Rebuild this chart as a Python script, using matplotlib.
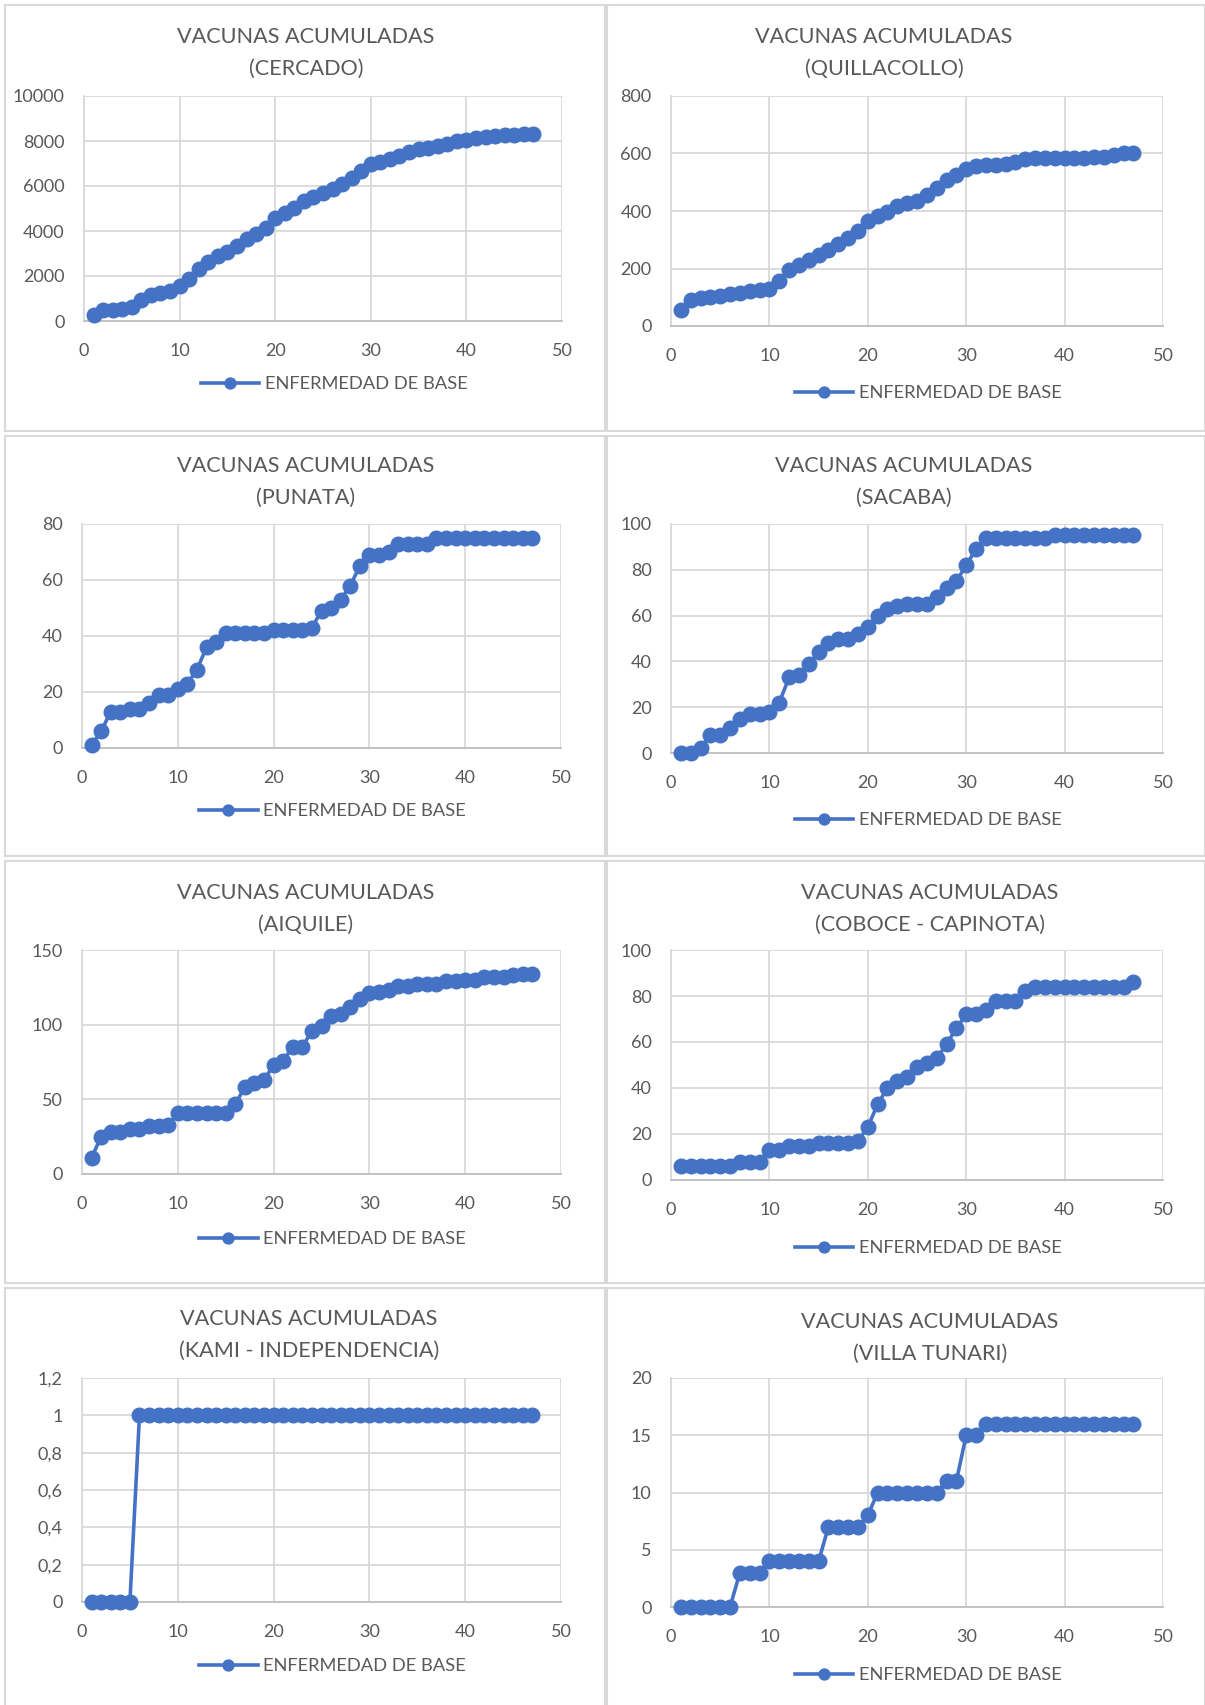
import matplotlib
matplotlib.use("Agg")
import matplotlib.pyplot as plt
from matplotlib.patches import Rectangle
from matplotlib.ticker import FuncFormatter, MultipleLocator

plt.rcParams['font.family'] = ['Lato', 'DejaVu Sans']

# Data (day index 1..47, cumulative vaccines)
days = list(range(1, 48))

cercado = [250, 470, 500, 550, 620, 920, 1140, 1260, 1330, 1560,
           1850, 2300, 2620, 2890, 3070, 3330, 3660, 3880, 4150, 4580,
           4800, 5040, 5330, 5510, 5690, 5880, 6070, 6370, 6670, 6960,
           7070, 7190, 7330, 7510, 7630, 7700, 7780, 7880, 8000, 8060,
           8150, 8180, 8220, 8250, 8280, 8290, 8320]
quillacollo = [55, 92, 98, 100, 104, 110, 115, 121, 125, 129,
               158, 194, 213, 231, 246, 263, 286, 306, 332, 364,
               383, 396, 418, 427, 436, 456, 479, 508, 525, 545,
               556, 560, 560, 565, 571, 580, 583, 585, 586, 586,
               586, 586, 588, 588, 594, 600, 600]
punata = [1, 6, 13, 13, 14, 14, 16, 19, 19, 21,
          23, 28, 36, 38, 41, 41, 41, 41, 41, 42,
          42, 42, 42, 43, 49, 50, 53, 58, 65, 69,
          69, 70, 73, 73, 73, 73, 75, 75, 75, 75,
          75, 75, 75, 75, 75, 75, 75]
sacaba = [0, 0, 2, 8, 8, 11, 15, 17, 17, 18,
          22, 33, 34, 39, 44, 48, 50, 50, 52, 55,
          60, 63, 64, 65, 65, 65, 68, 72, 75, 82,
          89, 94, 94, 94, 94, 94, 94, 94, 95, 95,
          95, 95, 95, 95, 95, 95, 95]
aiquile = [11, 25, 28, 28, 30, 30, 32, 32, 33, 41,
           41, 41, 41, 41, 41, 47, 58, 61, 63, 73,
           76, 85, 85, 96, 99, 106, 107, 112, 117, 121,
           122, 123, 126, 126, 127, 127, 127, 129, 129, 130,
           130, 132, 132, 132, 133, 134, 134]
coboce = [6, 6, 6, 6, 6, 6, 8, 8, 8, 13,
          13, 15, 15, 15, 16, 16, 16, 16, 17, 23,
          33, 40, 43, 45, 49, 51, 53, 59, 66, 72,
          72, 74, 78, 78, 78, 82, 84, 84, 84, 84,
          84, 84, 84, 84, 84, 84, 86]
kami = [0, 0, 0, 0, 0, 1, 1, 1, 1, 1,
        1, 1, 1, 1, 1, 1, 1, 1, 1, 1,
        1, 1, 1, 1, 1, 1, 1, 1, 1, 1,
        1, 1, 1, 1, 1, 1, 1, 1, 1, 1,
        1, 1, 1, 1, 1, 1, 1]
villa_tunari = [0, 0, 0, 0, 0, 0, 3, 3, 3, 4,
                4, 4, 4, 4, 4, 7, 7, 7, 7, 8,
                10, 10, 10, 10, 10, 10, 10, 11, 11, 15,
                15, 16, 16, 16, 16, 16, 16, 16, 16, 16,
                16, 16, 16, 16, 16, 16, 16]

names = ["(CERCADO)", "(QUILLACOLLO)", "(PUNATA)", "(SACABA)",
         "(AIQUILE)", "(COBOCE - CAPINOTA)", "(KAMI - INDEPENDENCIA)", "(VILLA TUNARI)"]
series = [cercado, quillacollo, punata, sacaba, aiquile, coboce, kami, villa_tunari]
y_max = [10000, 800, 80, 100, 150, 100, 1.2, 20]
y_step = [2000, 200, 20, 20, 50, 20, 0.2, 5]

# layout in pixels: axes (left, right, top, bottom), title center x, title y1, legend y
W, H = 1205, 1705
axes_px = [(84, 562, 96, 321), (671, 1163, 96, 326),
           (82, 561, 524, 748), (671, 1163, 524, 753),
           (82, 561, 950, 1174), (671, 1163, 950, 1180),
           (82, 561, 1378, 1602), (671, 1163, 1378, 1607)]
title_px = [(306, 37), (884, 37), (306, 466), (904, 466),
            (306, 893), (930, 893), (309, 1319), (930, 1322)]
legend_px = [384, 393, 811, 820, 1239, 1248, 1666, 1675]
panels_px = [(5, 5, 605, 431), (607, 5, 1205, 431),
             (5, 436, 605, 856), (607, 436, 1205, 856),
             (5, 861, 605, 1283), (607, 861, 1205, 1283),
             (5, 1288, 605, 1710), (607, 1288, 1205, 1710)]

blue = '#4472C4'
grid_c = '#D9D9D9'
text_c = '#595959'

fig = plt.figure(figsize=(W / 100, H / 100), dpi=100)

for (x0, y0, x1, y1) in panels_px:
    fig.add_artist(Rectangle((x0 / W, 1 - y1 / H), (x1 - x0) / W, (y1 - y0) / H,
                             transform=fig.transFigure, fill=False,
                             edgecolor=grid_c, linewidth=1.5))

comma = FuncFormatter(lambda v, p: f"{v:g}".replace('.', ','))

for i in range(8):
    l, r, t, b = axes_px[i]
    ax = fig.add_axes([l / W, 1 - b / H, (r - l) / W, (b - t) / H])
    ax.plot(days, series[i], color=blue, linewidth=2.6, marker='o',
            markersize=10.5, clip_on=False, zorder=3, label='ENFERMEDAD DE BASE')
    ax.set_xlim(0, 50)
    ax.set_ylim(0, y_max[i])
    ax.xaxis.set_major_locator(MultipleLocator(10))
    ax.yaxis.set_major_locator(MultipleLocator(y_step[i]))
    ax.yaxis.set_major_formatter(comma)
    ax.grid(True, color=grid_c, linewidth=1.3)
    ax.set_axisbelow(True)
    for s in ['top', 'right']:
        ax.spines[s].set_visible(False)
    ax.spines['left'].set_color(grid_c)
    ax.spines['bottom'].set_color('#BFBFBF')
    ax.spines['left'].set_linewidth(1.3)
    ax.spines['bottom'].set_linewidth(1.3)
    ax.tick_params(length=0, labelsize=13, labelcolor=text_c)
    ax.tick_params(axis='y', pad=14)
    ax.tick_params(axis='x', pad=16)

    cx, ty = title_px[i]
    fig.text(cx / W, 1 - ty / H, "VACUNAS ACUMULADAS", ha='center', va='center',
             fontsize=15.6, color=text_c)
    fig.text(cx / W, 1 - (ty + 32) / H, names[i], ha='center', va='center',
             fontsize=15.6, color=text_c)

    lcx = (l + r) / 2 + 11
    ax.legend(loc='center', bbox_to_anchor=(lcx / W, 1 - legend_px[i] / H),
              bbox_transform=fig.transFigure, frameon=False, fontsize=13.2,
              labelcolor=text_c, handlelength=3.2, handletextpad=0.3,
              markerscale=0.75)

fig.savefig('out.png', dpi=100)
